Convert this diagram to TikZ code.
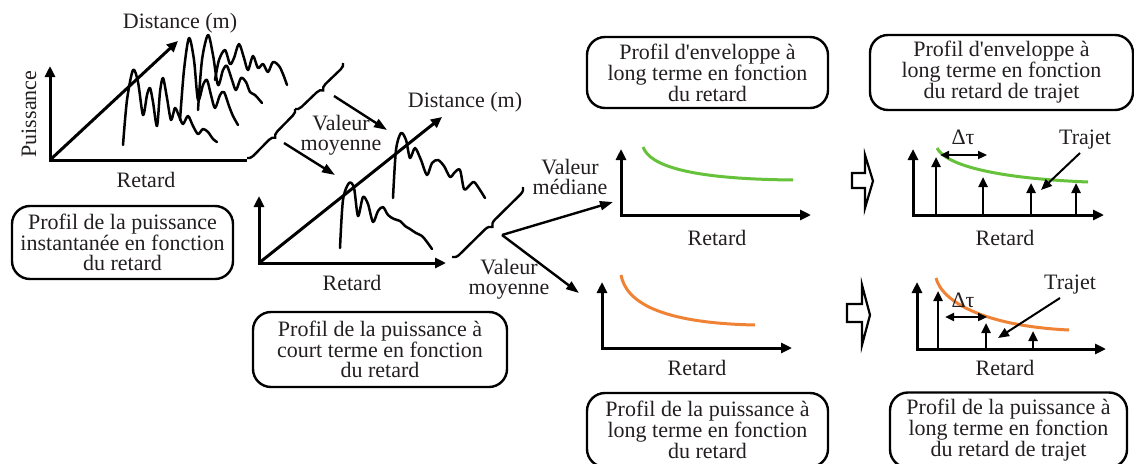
\documentclass[tikz,border=0pt]{standalone}
\usepackage{fontspec}
\setmainfont{Liberation Serif}
\usetikzlibrary{arrows.meta,decorations.pathreplacing}
\definecolor{textc}{HTML}{231F20}
\definecolor{cgreen}{HTML}{66C23A}
\definecolor{corange}{HTML}{F08236}
\begin{document}
\begin{tikzpicture}[x=1pt,y=-1pt,
  axis/.style={line width=3pt, line join=miter, >={Triangle[length=11pt,width=10pt]}},
  wave/.style={line width=2.5pt, line join=round, line cap=round},
  conn/.style={line width=2.4pt, -{Triangle[length=13pt,width=9pt]}},
  imp/.style={line width=2.4pt, -{Triangle[length=10pt,width=9pt]}},
  thin/.style={line width=2pt, -{Triangle[length=11pt,width=9pt]}},
  dtau/.style={line width=2.2pt, {Triangle[length=9pt,width=8pt]}-{Triangle[length=9pt,width=8pt]}},
  lbl/.style={text=textc, font=\fontsize{22}{20}\selectfont, align=center, inner sep=0pt},
  box/.style={lbl, draw=black, line width=2.4pt, rounded corners=18pt},
  brc/.style={decorate, line width=2.4pt},
  hollow/.style={draw, line width=2.2pt, fill=white, line join=miter},
  curveg/.style={cgreen, line width=3pt},
  curveo/.style={corange, line width=3pt}
]
\useasboundingbox (0,0) rectangle (1134,463);

% ---------- Panel 1 : instantaneous ----------
\coordinate (o1) at (50,160); \coordinate (y1) at (50,66);
\coordinate (x1) at (247,160); \coordinate (d1) at (178,41);
\draw[axis, <-] (y1) -- (o1) -- (x1);
\draw[axis, ->] (o1) -- (d1);
\node[lbl] (dist1) at (180,23) {Distance (m)};
\node[lbl, rotate=90] (puis) at (29,114) {Puissance};
\node[lbl] (ret1) at (146,180) {Retard};
\draw[wave] plot[smooth, tension=0.5] coordinates {(123,145) (127,100) (133,70) (138,82) (143,115) (147,95) (150,88) (153,102) (157,126) (160,92) (163,78) (167,98) (171,120) (175,108) (179,116) (183,124) (188,116) (193,126) (198,134) (203,129) (208,132) (213,139) (217,142)};
\draw[wave] plot[smooth, tension=0.5] coordinates {(180,120) (184,70) (189,38) (194,60) (198,100) (203,85) (207,80) (211,95) (215,108) (220,95) (224,92) (229,106) (233,116) (238,125)};
\draw[wave] plot[smooth, tension=0.5] coordinates {(198,110) (202,60) (208,35) (213,55) (218,85) (223,70) (227,66) (232,80) (236,90) (241,78) (246,82) (250,92) (255,95) (262,103)};
\draw[wave] plot[smooth, tension=0.5] coordinates {(215,80) (219,60) (225,50) (230,64) (234,58) (239,44) (244,58) (248,70) (253,56) (258,68) (263,64) (268,72) (273,62) (279,66) (283,74) (287,85)};

% braces 1
\coordinate (b1a) at (343,63); \coordinate (b1m) at (295,109); \coordinate (b1b) at (247,158);
\draw[brc, decoration={brace, amplitude=6pt}] (b1a) -- (b1m);
\draw[brc, decoration={brace, amplitude=6pt}] (b1m) -- (b1b);
\coordinate (a1s) at (334,96); \coordinate (a1e) at (387,130);
\coordinate (a2s) at (284,143); \coordinate (a2e) at (335,175);
\draw[conn] (a1s) -- (a1e);
\draw[conn] (a2s) -- (a2e);
\node[lbl] (vm1) at (341,135) {Valeur\\moyenne};

% ---------- Panel 2 : short term ----------
\coordinate (o2) at (259,263); \coordinate (y2) at (259,196);
\coordinate (x2) at (446,263); \coordinate (d2) at (442,117);
\draw[axis, <->] (y2) -- (o2) -- (x2);
\draw[axis, ->] (o2) -- (d2);
\node[lbl] (dist2) at (465,102) {Distance (m)};
\node[lbl] (ret2) at (352,283) {Retard};
\draw[wave] plot[smooth, tension=0.5] coordinates {(340,248) (343,200) (349,183) (354,188) (358,216) (363,197) (368,204) (373,222) (378,211) (383,207) (388,215) (394,219) (400,221) (405,226) (410,229) (416,233) (422,236) (427,242) (432,249)};
\draw[wave] plot[smooth, tension=0.5] coordinates {(393,198) (396,150) (401,133) (406,140) (410,158) (415,148) (421,160) (427,175) (432,163) (438,160) (444,166) (450,177) (455,172) (460,170) (464,189) (469,186) (474,182) (480,190) (485,198)};

% brace 2
\coordinate (b2a) at (523,187); \coordinate (b2b) at (452,257);
\draw[brc, decoration={brace, amplitude=7pt}] (b2a) -- (b2b);
\coordinate (a3s) at (502,235); \coordinate (a3e) at (613,202); \coordinate (a4e) at (579,293);
\draw[conn] (a3s) -- (a3e);
\draw[conn] (a3s) -- (a4e);
\node[lbl] (vmed) at (570,177) {Valeur\\médiane};
\node[lbl] (vm2) at (509,279) {Valeur\\moyenne};

% ---------- Panel 3 upper (green) ----------
\coordinate (o3) at (621,215); \coordinate (y3) at (621,149); \coordinate (x3) at (811,215);
\draw[axis, <->] (y3) -- (o3) -- (x3);
\draw[curveg] (643,147) .. controls (650,166) and (690,179) .. (793,180);
\node[lbl] (ret3) at (717,238) {Retard};
\node[box, minimum width=241pt, minimum height=71pt] (box3) at (707.5,72.5) {Profil d\textquotesingle enveloppe à\\long terme en fonction\\du retard};

% ---------- Panel 3 lower (orange) ----------
\coordinate (o4) at (602,348); \coordinate (y4) at (602,282); \coordinate (x4) at (792,348);
\draw[axis, <->] (y4) -- (o4) -- (x4);
\draw[curveo] (621,275) .. controls (626,302) and (660,323) .. (755,325);
\node[lbl] (ret4) at (697,368) {Retard};
\node[box, minimum width=241pt, minimum height=74pt] (box5) at (707.5,430) {Profil de la puissance à\\long terme en fonction\\du retard};

% ---------- hollow arrows ----------
\draw[hollow] (852,173) -- (865,173) -- (865,155) -- (873,181) -- (865,208) -- (865,188) -- (852,188) -- cycle;
\draw[hollow] (847,304) -- (862,304) -- (862,285) -- (870,315) -- (862,345) -- (862,322) -- (847,322) -- cycle;

% ---------- Panel 4 upper ----------
\coordinate (o5) at (913,215); \coordinate (y5) at (913,149); \coordinate (x5) at (1104,215);
\draw[axis, <->] (y5) -- (o5) -- (x5);
\foreach \n/\x/\t in {a/936/157, b/983/177, c/1031/183, d/1076/183} {
  \coordinate (p5\n) at (\x,215); \coordinate (q5\n) at (\x,\t);
  \draw[imp] (p5\n) -- (q5\n);
}
\draw[curveg] (937,148) .. controls (945,164) and (990,178) .. (1088,182);
\coordinate (t5a) at (940,155); \coordinate (t5b) at (987,155);
\draw[dtau] (t5a) -- (t5b);
\node[lbl] (dt5) at (963,137) {Δτ};
\node[lbl] (tr5) at (1085,140) {Trajet};
\coordinate (r5s) at (1080,153); \coordinate (r5e) at (1041,190);
\draw[thin] (r5s) -- (r5e);
\node[lbl] (ret5) at (1005,238) {Retard};
\node[box, minimum width=263pt, minimum height=75pt] (box4) at (1001.5,72.5) {Profil d\textquotesingle enveloppe à\\long terme en fonction\\du retard de trajet};

% ---------- Panel 4 lower ----------
\coordinate (o6) at (917,349); \coordinate (y6) at (917,282); \coordinate (x6) at (1106,349);
\draw[axis, <->] (y6) -- (o6) -- (x6);
\foreach \n/\x/\t in {a/938/291, b/986/323, c/1033/331} {
  \coordinate (p6\n) at (\x,349); \coordinate (q6\n) at (\x,\t);
  \draw[imp] (p6\n) -- (q6\n);
}
\draw[curveo] (936,278) .. controls (942,302) and (985,326) .. (1069,330);
\coordinate (t6a) at (945,317); \coordinate (t6b) at (987,317);
\draw[dtau] (t6a) -- (t6b);
\node[lbl] (dt6) at (963,300) {Δτ};
\node[lbl] (tr6) at (1070,285) {Trajet};
\coordinate (r6s) at (1060,298); \coordinate (r6e) at (998,338);
\draw[thin] (r6s) -- (r6e);
\node[lbl] (ret6) at (1005,368) {Retard};
\node[box, minimum width=237pt, minimum height=75pt] (box6) at (1008.5,430) {Profil de la puissance à\\long terme en fonction\\du retard de trajet};

% ---------- left boxes ----------
\node[box, minimum width=221pt, minimum height=73pt] (box1) at (122.5,242.5) {Profil de la puissance\\instantanée en fonction\\du retard};
\node[box, minimum width=254pt, minimum height=75pt] (box2) at (380,349.5) {Profil de la puissance à\\court terme en fonction\\du retard};
\end{tikzpicture}
\end{document}
